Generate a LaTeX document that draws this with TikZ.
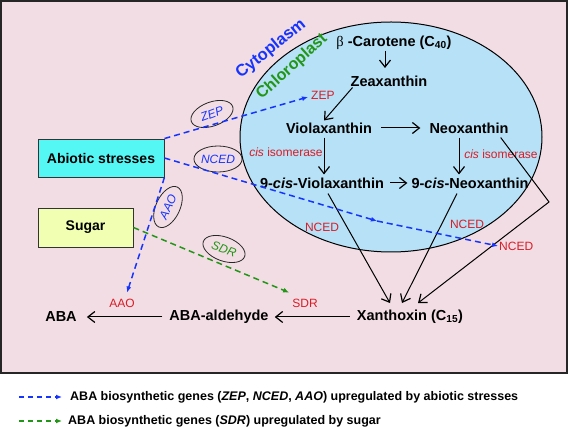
\documentclass[tikz,border=0pt]{standalone}
\usepackage{fontspec}
\setmainfont{Liberation Sans}
\newfontfamily\greekfont{Liberation Serif}
\usetikzlibrary{shapes.geometric,arrows.meta,calc}
\definecolor{cellpink}{RGB}{242,221,228}
\definecolor{chloroblue}{RGB}{182,225,246}
\definecolor{boxcyan}{RGB}{85,247,245}
\definecolor{boxyellow}{RGB}{240,255,178}
\definecolor{genered}{RGB}{218,28,38}
\definecolor{upblue}{RGB}{22,52,255}
\definecolor{upgreen}{RGB}{34,150,22}
\begin{document}
\begin{tikzpicture}[
	x=1pt, y=-1pt,
	chem/.style={font=\fontsize{14.5}{16}\selectfont\bfseries, inner sep=1pt},
	gene/.style={text=genered, font=\fontsize{12}{14}\selectfont, inner sep=1pt},
	cause/.style={draw=black!80, line width=0.9pt, inner sep=0pt,
	font=\fontsize{14}{16}\selectfont\bfseries},
	tag/.style={ellipse, draw=black!85, line width=0.8pt, inner sep=0pt,
	minimum width=44pt, minimum height=24pt, text=upblue,
	font=\fontsize{12}{14}\selectfont\itshape},
	step arrow/.style={draw=black, line width=1pt, -{Straight Barb[length=7pt,width=11pt,line width=1.2pt]}},
	up/.style={line width=1.5pt, dash pattern=on 6pt off 4pt,
	-{Latex[length=6pt,width=5pt]}},
	]
	\useasboundingbox (0,0) rectangle (568,427);
	% cell and chloroplast
	\draw[fill=cellpink, draw=black!85, line width=1.5pt] (1,1) rectangle (567,373);
	\draw[fill=chloroblue, draw=black, line width=1pt] (391,137) ellipse [x radius=151, y radius=115];
	\node[rotate=39, inner sep=0pt, text=upblue, font=\fontsize{16.5}{18}\selectfont\bfseries] (cyto) at (271,49) {Cytoplasm};
	\node[rotate=42, inner sep=0pt, text=upgreen, font=\fontsize{16}{18}\selectfont\bfseries] (chloro) at (292,67) {Chloroplast};

	% pathway
	\node[chem] (carotene) at (394,43) {{\mdseries\greekfont β} -Carotene (C\textsubscript{40})};
	\node[chem] (zea) at (389,81) {Zeaxanthin};
	\node[chem] (viola) at (329,128) {Violaxanthin};
	\node[chem] (neo) at (469,128) {Neoxanthin};
	\node[chem] (cviola) at (322,183) {9-\textit{cis}-Violaxanthin};
	\node[chem] (cneo) at (470,183) {9-\textit{cis}-Neoxanthin};
	\node[chem] (xan) at (410,317) {Xanthoxin (C\textsubscript{15})};
	\node[chem] (ald) at (219,317) {ABA-aldehyde};
	\node[chem] (aba) at (61,317) {ABA};

	% enzymes
	\node[gene, anchor=west] (zepE) at (310,95) {ZEP};
	\node[gene] (isoL) at (286,152) {\textit{cis} isomerase};
	\node[gene] (isoR) at (501,154) {\textit{cis} isomerase};
	\node[gene] (ncedA) at (322,227) {NCED};
	\node[gene] (ncedB) at (467,224) {NCED};
	\node[gene, anchor=west] (ncedC) at (498,246) {NCED};
	\node[gene] (aaoE) at (122,303) {AAO};
	\node[gene] (sdrE) at (305,303) {SDR};

	% inducers
	\node[cause, fill=boxcyan, minimum width=126pt, minimum height=38pt] (abio) at (101,158) {Abiotic stresses};
	\node[cause, fill=boxyellow, minimum width=95pt, minimum height=39pt] (sugar) at (85.5,227.5) {Sugar};

	\node[tag, rotate=20] (zepT) at (212,114) {ZEP};
	\node[tag, minimum width=46pt, minimum height=26pt] (ncedT) at (218,159) {NCED};
	\node[tag, rotate=65] (aaoT) at (168,207) {AAO};
	\node[tag, rotate=-20, text=upgreen] (sdrT) at (224,249) {SDR};

	% solid arrows
	\draw[step arrow] (carotene.south -| 385,0) -- (385,68);
	\draw[step arrow] ($(zea.south west)+(3,0)$) -- ($(viola.north)+(-5,-1)$);
	\draw[step arrow, shorten <=8pt, shorten >=8pt] (viola) -- (neo);
	\draw[step arrow] ($(viola.south)+(-5,3)$) -- ($(viola.south |- cviola.north)+(-5,-2)$);
	\draw[step arrow] ($(neo.south)+(-10,3)$) -- ($(neo.south |- cneo.north)+(-10,-2)$);
	\draw[step arrow, shorten <=5pt, shorten >=3pt] (cviola.east) -- (cneo.west);
	\draw[step arrow] ($(cviola.south)+(6,4)$) -- ($(xan.north)+(-20,-6)$);
	\draw[step arrow] ($(cneo.south)+(-13,4)$) -- ($(xan.north)+(-8,-6)$);
	\coordinate (bend) at (549,202);
	\draw[step arrow] ($(neo.south east)+(-9,3)$) -- (bend) -- ($(xan.north)+(8,-6)$);
	\draw[step arrow, shorten <=6pt, shorten >=5pt] (xan.west) -- (ald.east);
	\draw[step arrow, shorten <=6pt, shorten >=9pt] (ald.west) -- (aba.east);

	% upregulation
	\coordinate (ncedMid) at (377,221);
	\draw[up, upblue] (abio.north east) -- ($(zepE.west)+(-2,2)$);
	\draw[up, upblue] (abio.east) -- (ncedMid);
	\draw[up, upblue] (ncedMid) -- (ncedC.west);
	\draw[up, upblue] (abio.south east) -- ($(aaoE.north)+(5,-5)$);
	\draw[up, upgreen] (sugar.east) -- ($(sdrE.north west)+(-2,-5)$);

	% legend
	\node[anchor=west, inner sep=0pt, font=\fontsize{12.5}{14}\selectfont\bfseries] (keyA) at (70,397)
	{ABA biosynthetic genes (\textit{ZEP}, \textit{NCED}, \textit{AAO}) upregulated by abiotic stresses};
	\node[anchor=west, inner sep=0pt, font=\fontsize{12.5}{14}\selectfont\bfseries] (keyB) at (68,421)
	{ABA biosynthetic genes (\textit{SDR}) upregulated by sugar};
	\coordinate (keyAs) at (19,397);
	\coordinate (keyBs) at (19,421);
	\draw[up, upblue, line width=1.3pt, dash pattern=on 5pt off 4pt] (keyAs) -- ($(keyA.west)+(-8,0)$);
	\draw[up, upgreen, line width=1.3pt, dash pattern=on 5pt off 4pt] (keyBs) -- ($(keyB.west)+(-6,0)$);
\end{tikzpicture}
\end{document}
